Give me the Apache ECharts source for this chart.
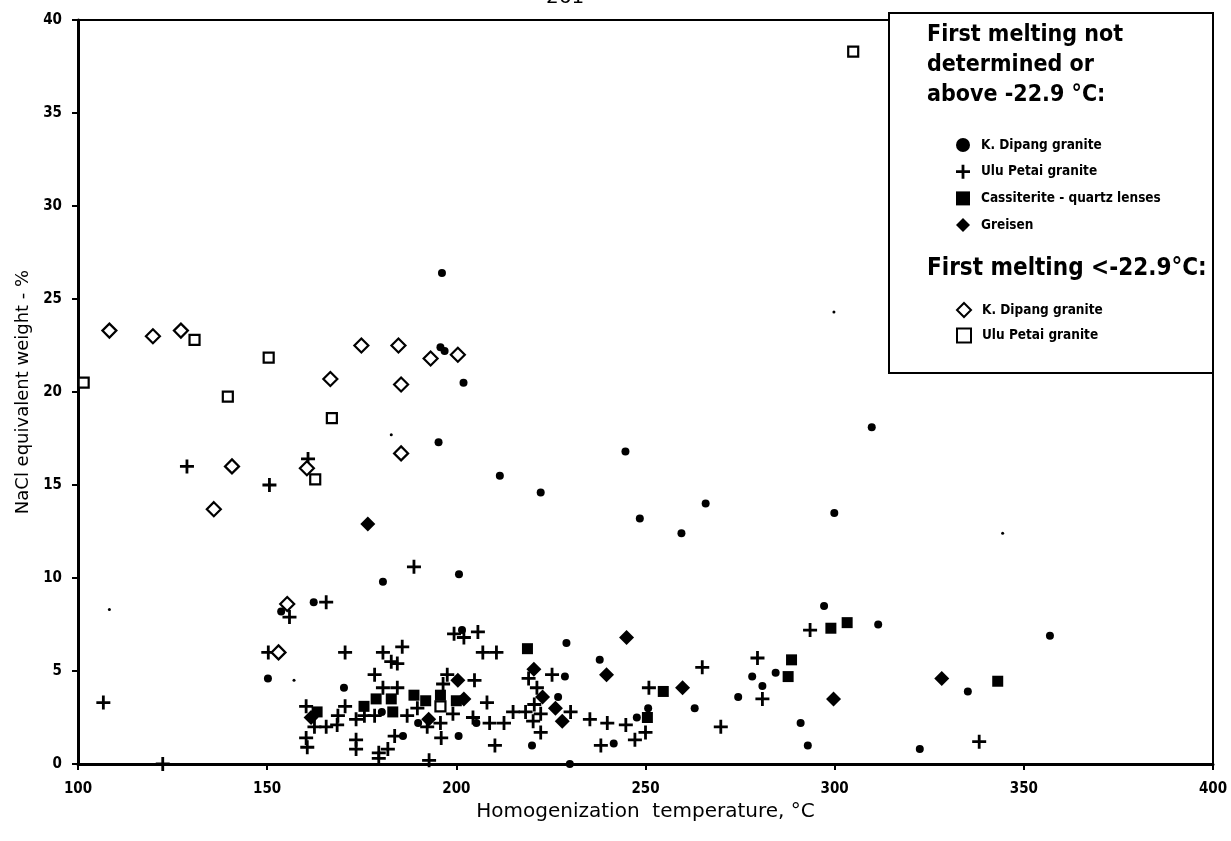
<!DOCTYPE html>
<html>
<head>
<meta charset="utf-8">
<script src="https://cdn.jsdelivr.net/npm/echarts@6/dist/echarts.min.js"></script>
<style>
  html, body { margin: 0; padding: 0; background: #fff; }
  #chart { width: 1231px; height: 841px; }
</style>
</head>
<body>
<div id="chart"></div>
<script>
// x = homogenization temperature (°C), y = NaCl equivalent weight (%)
var xTicks = [100, 150, 200, 250, 300, 350, 400];
var yTicks = [0, 5, 10, 15, 20, 25, 30, 35, 40];

// first melting not determined or above -22.9 °C
var dipangGranite = [
  [153.7, 8.2], [162.3, 8.7], [150.2, 4.6], [170.3, 4.1], [180.6, 9.8], [200.7, 10.2],
  [180.3, 2.8], [189.9, 2.2], [201.5, 7.2], [205.3, 2.2], [200.6, 1.5], [185.9, 1.5],
  [229.1, 6.5], [228.7, 4.7], [226.9, 3.6], [220.0, 1.0], [230.0, 0.0], [237.9, 5.6],
  [247.7, 2.5], [241.6, 1.1], [250.7, 3.0], [263.0, 3.0], [274.5, 3.6], [278.2, 4.7],
  [280.9, 4.2], [284.4, 4.9], [291.0, 2.2], [292.9, 1.0], [297.2, 8.5], [311.5, 7.5],
  [322.5, 0.8], [356.9, 6.9], [335.2, 3.9], [196.2, 26.4], [195.8, 22.4], [196.9, 22.2],
  [201.9, 20.5], [195.3, 17.3], [211.5, 15.5], [222.3, 14.6], [244.7, 16.8], [248.5, 13.2],
  [265.9, 14.0], [259.5, 12.4], [299.9, 13.5], [309.8, 18.1]
];
// tiny specks drawn with the same K. Dipang mark, smaller
var dipangSpecks = [[108.3, 8.3], [157.1, 4.5], [182.8, 17.7], [299.8, 24.3], [344.4, 12.4]];

var petaiGranite = [
  [106.7, 3.3], [122.4, 0.0], [155.9, 7.9], [165.6, 8.7], [150.3, 6.0], [170.6, 6.0],
  [160.3, 3.1], [162.5, 2.0], [165.6, 2.0], [160.3, 1.4], [160.6, 0.9], [168.7, 2.6],
  [168.5, 2.1], [170.6, 3.1], [173.5, 2.4], [173.5, 1.3], [173.5, 0.8], [188.8, 10.6],
  [180.6, 6.0], [185.7, 6.3], [182.8, 5.5], [184.4, 5.4], [178.4, 4.8], [180.6, 4.1],
  [184.4, 4.1], [175.7, 2.6], [178.4, 2.6], [189.7, 3.0], [187.0, 2.6], [192.3, 2.0],
  [195.8, 2.2], [197.6, 4.8], [196.5, 4.3], [199.4, 7.0], [202.0, 6.8], [205.7, 7.1],
  [207.0, 6.0], [210.6, 6.0], [204.8, 4.5], [199.1, 2.7], [208.1, 3.3], [204.4, 2.5],
  [208.8, 2.2], [212.6, 2.2], [196.0, 1.4], [179.5, 0.6], [179.5, 0.3], [181.9, 0.8],
  [183.7, 1.5], [192.8, 0.2], [210.2, 1.0], [219.1, 4.6], [225.3, 4.8], [221.3, 4.1],
  [220.6, 3.2], [215.0, 2.8], [218.3, 2.8], [222.3, 2.7], [220.3, 2.3], [230.2, 2.8],
  [222.3, 1.7], [235.3, 2.4], [239.9, 2.2], [244.8, 2.1], [238.2, 1.0], [247.2, 1.3],
  [250.0, 1.7], [250.9, 4.1], [265.0, 5.2], [269.9, 2.0], [279.6, 5.7], [280.9, 3.5],
  [293.5, 7.2], [338.2, 1.2], [128.8, 16.0], [150.6, 15.0], [160.8, 16.4]
];

var cassiteriteLenses = [
  [163.2, 2.8], [175.6, 3.1], [178.8, 3.5], [182.8, 3.5], [183.2, 2.8], [188.8, 3.7],
  [191.9, 3.4], [195.8, 3.7], [200.0, 3.4], [218.8, 6.2], [250.5, 2.5], [254.7, 3.9],
  [288.6, 5.6], [287.7, 4.7], [299.0, 7.3], [303.3, 7.6], [343.1, 4.45]
];

var greisen = [
  [161.6, 2.5], [192.7, 2.4], [200.4, 4.5], [202.0, 3.5], [220.5, 5.1], [222.8, 3.6],
  [226.2, 3.0], [228.0, 2.3], [239.7, 4.8], [245.0, 6.8], [259.8, 4.1], [299.7, 3.5],
  [328.3, 4.6], [176.6, 12.9]
];

// first melting below -22.9 °C
var dipangLow = [
  [155.3, 8.6], [153.0, 6.0], [108.3, 23.3], [119.8, 23.0], [127.2, 23.3], [166.7, 20.7],
  [140.7, 16.0], [135.9, 13.7], [160.5, 15.9], [174.9, 22.5], [184.7, 22.5], [193.2, 21.8],
  [200.4, 22.0], [185.4, 20.4], [185.4, 16.7]
];
var petaiLow = [
  [101.5, 20.5], [130.8, 22.8], [150.4, 21.85], [139.6, 19.75], [167.1, 18.6],
  [162.7, 15.3], [195.8, 3.1], [304.9, 38.3]
];

var plotFont = '"Liberation Sans Narrow", "DejaVu Sans Condensed", "DejaVu Sans", sans-serif';
var plusPath = 'path://M4,0H6V4H10V6H6V10H4V6H0V4H4Z';

var chart = echarts.init(document.getElementById('chart'));

var legendText = {
  fontFamily: plotFont, fontWeight: 'bold', fontSize: 13.5, color: '#000',
  padding: [0, 0, 0, 6]
};

var option = {
  backgroundColor: '#fff',
  animation: false,
  grid: {
    left: 78, right: 18, top: 20, bottom: 77,
    show: true, borderColor: '#000', borderWidth: 2
  },
  xAxis: {
    type: 'value',
    min: xTicks[0], max: xTicks[xTicks.length - 1], interval: 50,
    name: 'Homogenization  temperature, °C',
    nameLocation: 'middle', nameGap: 36,
    nameTextStyle: { fontFamily: 'DejaVu Sans', fontSize: 20, color: '#000' },
    axisLine: { lineStyle: { color: '#000', width: 3 } },
    axisTick: { inside: false, length: 6, lineStyle: { color: '#000', width: 2 } },
    axisLabel: { margin: 18, color: '#000', fontFamily: plotFont, fontWeight: 'bold', fontSize: 15 },
    splitLine: { show: false }
  },
  yAxis: {
    type: 'value',
    min: yTicks[0], max: yTicks[yTicks.length - 1], interval: 5,
    name: 'NaCl equivalent weight - %',
    nameLocation: 'middle', nameGap: 46,
    nameTextStyle: { fontFamily: 'DejaVu Sans', fontSize: 18, color: '#000' },
    axisLine: { lineStyle: { color: '#000', width: 3 } },
    axisTick: { inside: false, length: 6, lineStyle: { color: '#000', width: 2 } },
    axisLabel: { margin: 16, color: '#000', fontFamily: plotFont, fontWeight: 'bold', fontSize: 15 },
    splitLine: { show: false }
  },
  legend: [
    {
      orient: 'vertical', left: 951, top: 133,
      itemWidth: 14, itemHeight: 14, itemGap: 12.7,
      textStyle: legendText,
      data: ['K. Dipang granite', 'Ulu Petai granite', 'Cassiterite - quartz lenses', 'Greisen']
    },
    {
      orient: 'vertical', left: 951, top: 297,
      itemWidth: 14, itemHeight: 14, itemGap: 9.5,
      textStyle: legendText,
      data: ['K. Dipang granite ', 'Ulu Petai granite ']
    }
  ],
  graphic: [
    {
      type: 'rect', z: 1,
      shape: { x: 889, y: 13, width: 324, height: 360 },
      style: { fill: '#fff', stroke: '#000', lineWidth: 2 }
    },
    {
      type: 'text', z: 5, left: 927, top: 20,
      style: {
        text: 'First melting not\ndetermined or\nabove -22.9 °C:',
        font: 'bold 23px ' + plotFont, lineHeight: 30, fill: '#000'
      }
    },
    {
      type: 'text', z: 5, left: 927, top: 257,
      style: { text: 'First melting <-22.9°C:', font: 'bold 24px ' + plotFont, fill: '#000' }
    },
    {
      type: 'text', z: 5, left: 546, top: -12,
      style: { text: '261', font: '20px DejaVu Sans', fill: '#000' }
    }
  ],
  series: [
    {
      name: 'K. Dipang granite', type: 'scatter', symbol: 'circle', symbolSize: 8,
      itemStyle: { color: '#000', opacity: 1 }, data: dipangGranite
    },
    {
      name: 'K. Dipang specks', type: 'scatter', symbol: 'circle', symbolSize: 3,
      itemStyle: { color: '#000', opacity: 1 }, data: dipangSpecks
    },
    {
      name: 'Ulu Petai granite', type: 'scatter', symbol: plusPath, symbolSize: 14,
      itemStyle: { color: '#000', opacity: 1 }, data: petaiGranite
    },
    {
      name: 'Cassiterite - quartz lenses', type: 'scatter', symbol: 'rect', symbolSize: 11,
      itemStyle: { color: '#000', opacity: 1 }, data: cassiteriteLenses
    },
    {
      name: 'Greisen', type: 'scatter', symbol: 'diamond', symbolSize: 15,
      itemStyle: { color: '#000', opacity: 1 }, data: greisen
    },
    {
      name: 'K. Dipang granite ', type: 'scatter', symbol: 'diamond', symbolSize: 14,
      itemStyle: { color: '#fff', borderColor: '#000', borderWidth: 2.2, opacity: 1 }, data: dipangLow
    },
    {
      name: 'Ulu Petai granite ', type: 'scatter', symbol: 'rect', symbolSize: 10,
      itemStyle: { color: '#fff', borderColor: '#000', borderWidth: 2.2, opacity: 1 }, data: petaiLow
    }
  ]
};

chart.setOption(option);
</script>
</body>
</html>
